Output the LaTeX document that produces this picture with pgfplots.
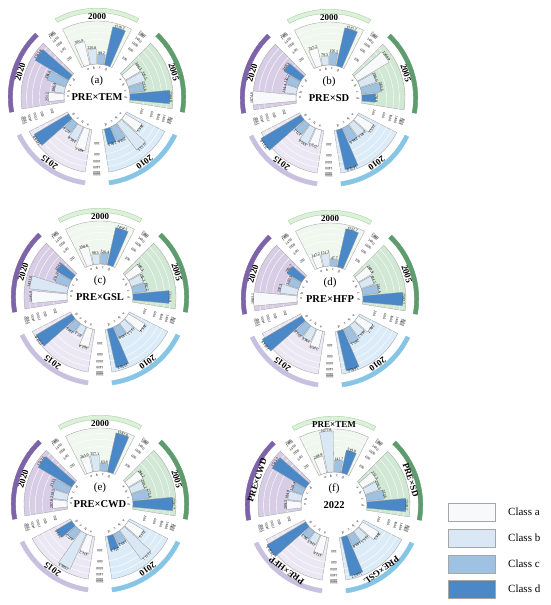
\documentclass[border=0pt]{standalone}
\usepackage{pgfplots}
\pgfplotsset{compat=1.18}
\usepackage{pgfplotstable}
\usepackage{fontspec}
\setmainfont{Liberation Serif}

\definecolor{cls0}{HTML}{F8F9FB}
\definecolor{cls1}{HTML}{DAE7F4}
\definecolor{cls2}{HTML}{9FC1E2}
\definecolor{cls3}{HTML}{4A88C7}
\definecolor{wg0}{HTML}{EFF7EE}
\definecolor{wg1}{HTML}{D1E8D4}
\definecolor{wg2}{HTML}{DBECF8}
\definecolor{wg3}{HTML}{EBE8F4}
\definecolor{wg4}{HTML}{D7CEE6}
\definecolor{bd0}{HTML}{DDF0DA}
\definecolor{bd1}{HTML}{5E9C6E}
\definecolor{bd2}{HTML}{86C5E5}
\definecolor{bd3}{HTML}{C7C0DF}
\definecolor{bd4}{HTML}{7D63A8}
\definecolor{bdl0}{HTML}{A8D2A4}
\definecolor{bdl1}{HTML}{5E9C6E}
\definecolor{bdl2}{HTML}{86C5E5}
\definecolor{bdl3}{HTML}{C7C0DF}
\definecolor{bdl4}{HTML}{7D63A8}

% rows: sectors (years), columns: classes a-d
\pgfplotstableread{
a b c d
565.9 226.8 98.2 1516.3
306.5 325.5 215.6 1584.8
386.5 1113.5 258.6 240.5
489.1 246.8 127.6 1618.9
251.2 100.4 394.6 1515.8
}\tabA
\pgfplotstableread{
a b c d
337.2 79.3 156.5 1515.3
1368.9 286.6 383.6 178.8
365.5 240.1 246.6 1632.8
272.5 335.6 171.2 2131.8
1874.6 134.4 150.2 368.5
}\tabB
\pgfplotstableread{
a b c d
358.8 98.3 126.4 1454.5
266.5 166.2 192.2 1311.9
386.4 155.5 140.0 1550.8
362.4 87.2 134.6 1723.0
1245.9 1431.6 211.9 304.8
}\tabC
\pgfplotstableread{
a b c d
147.2 151.3 47.7 1522.7
260.9 184.5 261.4 1593.1
286.7 186.2 265.1 1640.6
316.9 196.6 191.8 2104.9
1883.1 297.3 120.5 285.7
}\tabD
\pgfplotstableread{
a b c d
265.0 257.1 63.8 1587.8
296.2 200.2 275.6 1591.7
331.5 1311.1 140.2 211.3
331.2 1506.3 137.5 309.6
207.8 210.5 313.5 1513.6
}\tabE
\pgfplotstableread{
a b c d
288.8 1677.8 141.7 539.8
272.3 206.5 313.6 1518.1
386.5 156.5 149.8 1583.7
332.6 116.3 96.3 2032.5
209.3 184.8 126.4 1515.7
}\tabF

\newcommand\panel[6]{%
\begin{scope}[shift={(#2pt,{(605-#3)*1pt})}]
 \foreach \nm [count=\sk from 0] in {#6} {
   \pgfmathsetmacro\tc{90-72*\sk}
   \pgfmathsetmacro\ta{\tc+27}\pgfmathsetmacro\tb{\tc-27}
   \fill[wg\sk,draw=black!35,line width=0.35pt] (\ta:33pt) -- (\ta:76pt)
      arc[start angle=\ta,end angle=\tb,radius=76pt] -- (\tb:33pt)
      arc[start angle=\tb,end angle=\ta,radius=33pt] -- cycle;
   \foreach \t in {200,600,1000,1400} {
      \pgfmathsetmacro\rr{33+sqrt(\t)}
      \draw[white,line width=0.4pt] (\ta:\rr pt) arc[start angle=\ta,end angle=\tb,radius=\rr pt];}
   \pgfmathsetmacro\ba{\tc+28}\pgfmathsetmacro\bb{\tc-28}
   \fill[bd\sk,draw=bdl\sk,line width=0.4pt] (\ba:84.5pt)
      arc[start angle=\ba,end angle=\bb,radius=84.5pt] -- (\bb:88.8pt)
      arc[start angle=\bb,end angle=\ba,radius=88.8pt] -- cycle;
   \node[font=\bfseries\fontsize{9}{9}\selectfont,rotate=\tc-90,inner sep=0pt] at (\tc:80.8pt) {\nm};
   \pgfmathsetmacro\tt{\tc+36}
   \foreach \t in {200,600,1000,1400,1800,2000} {
      \pgfmathsetmacro\rr{33+sqrt(\t)}
      \node[font=\fontsize{3.6}{3.6}\selectfont,rotate=\tt-90,inner sep=0pt] at (\tt:\rr pt) {\t};}
 }
\end{scope}
\begin{axis}[at={(#2pt,{(605-#3)*1pt})},anchor=center,scale only axis,
  width=180pt,height=180pt,xmin=-90,xmax=90,ymin=-90,ymax=90,hide axis,clip=false]
 \foreach \sk in {0,...,4}{\foreach \cj in {0,...,3}{
   \pgfplotstablegetelem{\sk}{[index]\cj}\of{#1}
   \pgfmathsetmacro\rr{33+sqrt(\pgfplotsretval)}
   \pgfmathsetmacro\tm{90-72*\sk+18-12*\cj}
   \pgfmathsetmacro\ta{\tm+5.3}\pgfmathsetmacro\tb{\tm-5.3}
   \edef\tmp{\noexpand\addplot[draw=black!40,line width=0.3pt,fill=cls\cj,data cs=polar]
      coordinates {(\ta,33) (\ta,\rr) (\tm,\rr) (\tb,\rr) (\tb,33) (\tm,33) (\ta,33)};}
   \tmp
 }}
\end{axis}
\begin{scope}[shift={(#2pt,{(605-#3)*1pt})}]
 \foreach \sk in {0,...,4}{\foreach \cj in {0,...,3}{
   \pgfplotstablegetelem{\sk}{[index]\cj}\of{#1}
   \let\vv\pgfplotsretval
   \pgfmathsetmacro\ang{90-72*\sk+18-12*\cj}
   \pgfmathsetmacro\rr{33+sqrt(\vv)+1.0}
   \node[font=\fontsize{3.9}{3.9}\selectfont,inner sep=0pt,rotate=\ang-90] at (\ang:\rr pt) {\vv};
   \node[font=\fontsize{3.8}{3.8}\selectfont,inner sep=0pt,rotate=\ang-90] at (\ang:29pt) {\ifcase\cj a\or b\or c\or d\fi};
 }}
 \node[font=\fontsize{11}{11}\selectfont] at (0,16pt) {#4};
 \node[font=\bfseries\fontsize{10.5}{10.5}\selectfont] at (0,0) {#5};
\end{scope}
}

\begin{document}
\begin{tikzpicture}
\useasboundingbox (0,0) rectangle (550pt,605pt);
\fill[white] (0,0) rectangle (550pt,605pt);
\panel{\tabA}{97}{97}{(a)}{PRE×TEM}{2000,2005,2010,2015,2020}
\panel{\tabB}{329}{98}{(b)}{PRE×SD}{2000,2005,2010,2015,2020}
\panel{\tabC}{100}{297}{(c)}{PRE×GSL}{2000,2005,2010,2015,2020}
\panel{\tabD}{330}{299}{(d)}{PRE×HFP}{2000,2005,2010,2015,2020}
\panel{\tabE}{100}{504}{(e)}{PRE×CWD}{2000,2005,2010,2015,2020}
\panel{\tabF}{334}{505}{(f)}{2022}{PRE×TEM,PRE×SD,PRE×GSL,PRE×HFP,PRE×CWD}
\foreach \i/\yt in {0/503,1/529,2/555,3/580} {
  \fill[cls\i,draw=black!35,line width=0.5pt] (448pt,{(605-\yt)*1pt}) rectangle (495pt,{(605-\yt-18)*1pt});
  \node[anchor=west,inner sep=0pt,font=\fontsize{11}{11}\selectfont] at (508pt,{(605-\yt-9)*1pt}) {Class \ifcase\i a\or b\or c\or d\fi};
}
\end{tikzpicture}
\end{document}
